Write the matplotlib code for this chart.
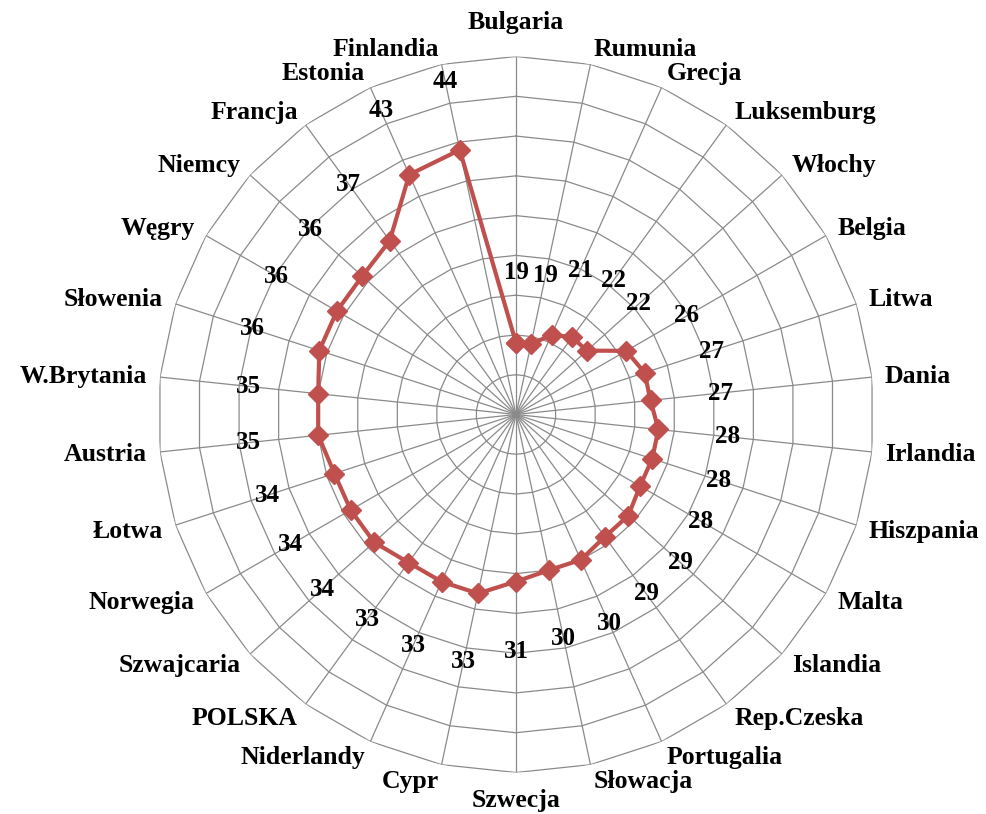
import numpy as np
import matplotlib

matplotlib.use("Agg")
import matplotlib.pyplot as plt

# data, clockwise from the top
countries = [
    "Bulgaria", "Rumunia", "Grecja", "Luksemburg", "Włochy", "Belgia",
    "Litwa", "Dania", "Irlandia", "Hiszpania", "Malta", "Islandia",
    "Rep.Czeska", "Portugalia", "Słowacja", "Szwecja", "Cypr", "Niderlandy",
    "POLSKA", "Szwajcaria", "Norwegia", "Łotwa", "Austria", "W.Brytania",
    "Słowenia", "Węgry", "Niemcy", "Francja", "Estonia", "Finlandia",
]
values = [
    19, 19, 21, 22, 22, 26, 27, 27, 28, 28, 28, 29, 29, 30, 30,
    31, 33, 33, 33, 34, 34, 34, 35, 35, 36, 36, 36, 37, 43, 44,
]
r_min, r_max, r_step = 10, 55, 5

W, H = 987, 814
cx, cy, R = 516, 414.5, 358  # pixel centre and outer radius

fig = plt.figure(figsize=(W / 100, H / 100), dpi=100)
ax = fig.add_axes([(cx - R) / W, (H - cy - R) / H, 2 * R / W, 2 * R / H],
                  projection="polar")
ax.set_theta_zero_location("N")
ax.set_theta_direction(-1)
ax.set_ylim(r_min, r_max)
ax.grid(False)
ax.spines["polar"].set_visible(False)
ax.set_xticks([])
ax.set_yticks([])
ax.patch.set_alpha(0)

n = len(countries)
theta = np.arange(n) * 2 * np.pi / n
closed = np.append(theta, theta[0])

grid_col = "#8a8a8a"
for r in range(r_min + r_step, r_max + 1, r_step):
    ax.plot(closed, np.full(n + 1, r), color=grid_col, lw=0.9, zorder=1)
for t in theta:
    ax.plot([t, t], [r_min, r_max], color=grid_col, lw=0.9, zorder=1)

red = "#c0504d"
ax.plot(closed, np.append(values, values[0]), color=red, lw=3,
        marker="D", markersize=10, zorder=3)

font = ["Liberation Serif", "DejaVu Serif"]
for t, v in zip(theta, values):
    ax.text(t, v + 8.8, str(v), ha="center", va="center", fontsize=18,
            fontweight="bold", family=font, zorder=4)

for t, name in zip(theta, countries):
    s, c = np.sin(t), np.cos(t)
    dx, dy = 13 * s, 16 * c
    if abs(s) < 0.05:
        ha = "center"
        va = "bottom" if c > 0 else "top"
        dy = 23 if c > 0 else -16
    else:
        ha = "left" if s > 0 else "right"
        va = "center"
        dy -= 1
    ax.annotate(name, xy=(t, r_max), xytext=(dx, dy),
                textcoords="offset pixels", ha=ha, va=va, fontsize=18.5,
                fontweight="bold", family=font, annotation_clip=False)

fig.savefig("out.png", dpi=100)
